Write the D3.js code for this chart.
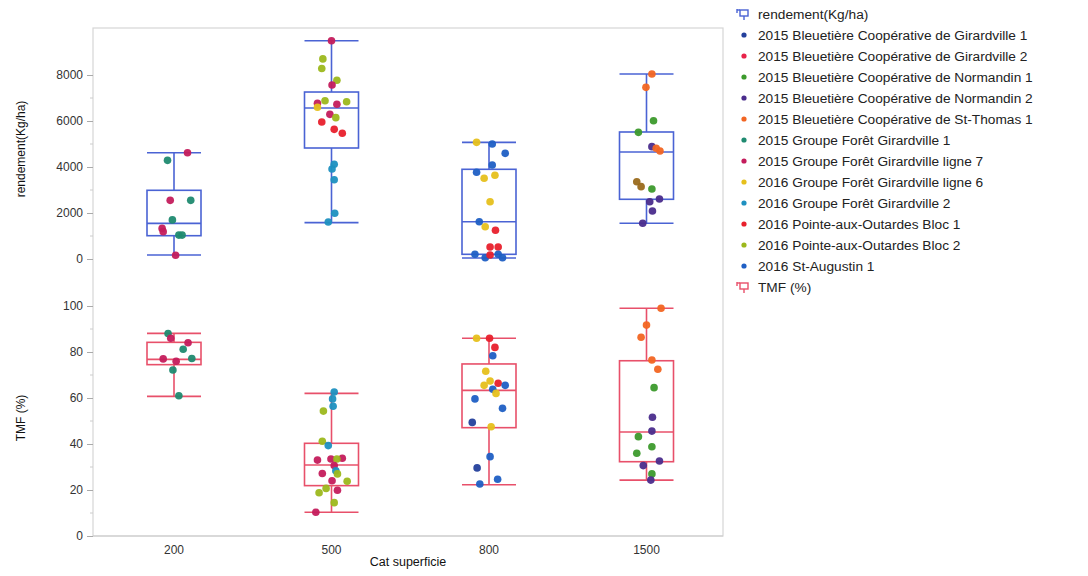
<!DOCTYPE html>
<html><head><meta charset="utf-8">
<script src="https://cdn.jsdelivr.net/npm/d3@7"></script>
<style>
body{margin:0;background:#fff;}
svg{font-family:"Liberation Sans",Arial,Helvetica,sans-serif;}
</style></head><body>
<svg id="chart" width="1088" height="576"></svg>
<script>
// ---------- data ----------
const categories = ["200", "500", "800", "1500"];
const seriesNames = [
  "2015 Bleuetière Coopérative de Girardville 1",
  "2015 Bleuetière Coopérative de Girardville 2",
  "2015 Bleuetière Coopérative de Normandin 1",
  "2015 Bleuetière Coopérative de Normandin 2",
  "2015 Bleuetière Coopérative de St-Thomas 1",
  "2015 Groupe Forêt Girardville 1",
  "2015 Groupe Forêt Girardville ligne 7",
  "2016 Groupe Forêt Girardville ligne 6",
  "2016 Groupe Forêt Girardville 2",
  "2016 Pointe-aux-Outardes Bloc 1",
  "2016 Pointe-aux-Outardes Bloc 2",
  "2016 St-Augustin 1"
];
const seriesColors = ["#24409c","#e8234a","#3c9a2c","#4a2c8c","#f26522","#1f8a70",
  "#c41c5c","#e6c01c","#1e90c0","#e8202c","#9cb81c","#1f5fc4","#9a6a1c"];
const rendementTicks = [0, 2000, 4000, 6000, 8000];
const tmfTicks = [0, 20, 40, 60, 80, 100];
// box stats: [min, q1, median, q3, max]
const rendementStats = [
  [174, 1013, 1550, 2987, 4622],
  [1580, 4826, 6565, 7260, 9490],
  [43, 204, 1622, 3900, 5072],
  [1552, 2596, 4652, 5522, 8043]
];
const tmfStats = [
  [60.7, 74.5, 76.8, 84.2, 88.1],
  [10.3, 21.9, 30.9, 40.3, 62],
  [22.3, 47.1, 63.3, 74.8, 86],
  [24.3, 32.3, 45.2, 76.2, 99]
];
// points: [category index, value, series index, jitter]
const rendementPoints = [
  [0,4620,6,0.25],[0,4290,5,-0.12],[0,2550,6,-0.07],[0,2550,5,0.31],[0,1700,5,-0.03],
  [0,1330,6,-0.22],[0,1190,6,-0.2],[0,1040,5,0.09],[0,1040,5,0.15],[0,160,6,0.03],
  [1,9490,6,0],[1,8700,10,-0.16],[1,8280,10,-0.18],[1,7770,10,0.1],[1,7565,6,0.01],
  [1,6770,6,-0.26],[1,6880,10,-0.12],[1,6725,6,0.1],[1,6840,10,0.28],[1,6595,7,-0.26],
  [1,6290,6,-0.03],[1,6145,10,0.08],[1,5957,9,-0.18],[1,5637,9,0.05],[1,5465,9,0.2],
  [1,4117,8,0.05],[1,3913,8,0.01],[1,3448,8,0.05],[1,1987,8,0.06],[1,1609,8,-0.06],
  [2,5072,7,-0.23],[2,5000,11,0.06],[2,4594,11,0.3],[2,4087,11,0.06],[2,3770,11,-0.23],
  [2,3509,7,-0.09],[2,3639,7,0.11],[2,2491,7,0.02],[2,1622,11,-0.18],[2,1404,7,-0.07],
  [2,1248,9,0.12],[2,522,9,0.02],[2,522,9,0.17],[2,204,11,-0.26],[2,57,11,-0.07],
  [2,174,9,0.02],[2,204,11,0.17],[2,57,11,0.25],
  [3,8043,4,0.1],[3,7464,4,-0.01],[3,6014,2,0.13],[3,5507,2,-0.15],[3,4884,3,0.1],
  [3,4812,4,0.18],[3,4696,4,0.25],[3,3361,12,-0.18],[3,3145,12,-0.1],[3,3043,2,0.1],
  [3,2491,3,0.06],[3,2609,3,0.24],[3,2087,3,0.11],[3,1552,3,-0.07]
];
const tmfPoints = [
  [0,88,5,-0.11],[0,86,6,-0.06],[0,84,6,0.26],[0,81.2,5,0.17],[0,77,6,-0.2],
  [0,77.2,5,0.33],[0,76,6,0.04],[0,72.2,5,-0.02],[0,61,5,0.09],
  [1,62.6,8,0.05],[1,59.6,8,0.02],[1,56.4,8,0.03],[1,54.3,10,-0.15],[1,41.2,10,-0.17],
  [1,39.3,8,-0.06],[1,33,6,-0.26],[1,33.5,6,-0.01],[1,33.8,6,0.2],[1,33.5,10,0.1],
  [1,30.6,6,0.05],[1,27.2,6,-0.17],[1,28.4,8,0.08],[1,27,10,0.11],[1,24,6,0.01],
  [1,23.8,10,0.29],[1,20.7,10,-0.1],[1,19.9,6,0.11],[1,18.8,10,-0.23],[1,14.5,10,0.05],
  [1,10.3,6,-0.29],
  [2,86,7,-0.23],[2,86,9,0.01],[2,82,9,0.11],[2,78.4,11,0.07],[2,71.6,7,-0.06],
  [2,67.4,7,0.02],[2,65.5,7,-0.09],[2,66.4,9,0.17],[2,65.5,11,0.3],[2,63.8,11,0.07],
  [2,62,7,0.13],[2,59.6,11,-0.26],[2,55.5,11,0.25],[2,49.4,0,-0.31],[2,47.5,7,0.04],
  [2,34.5,11,0.02],[2,29.6,0,-0.22],[2,22.6,11,-0.17],[2,24.7,11,0.16],
  [3,99,4,0.27],[3,91.7,4,0],[3,86.4,4,-0.1],[3,76.5,4,0.1],[3,72.5,4,0.21],
  [3,64.5,2,0.14],[3,51.6,3,0.11],[3,45.6,3,0.1],[3,43.2,2,-0.15],[3,38.8,2,0.1],
  [3,36,2,-0.18],[3,32.6,3,0.24],[3,30.6,3,-0.06],[3,27,2,0.1],[3,24.3,3,0.08]
];
const rendementLabel = "rendement(Kg/ha)";
const tmfLabel = "TMF (%)";
const xLabel = "Cat superficie";

// ---------- layout ----------
const svg = d3.select("#chart");
const frame = {left: 93, right: 723, top: 28, bottom: 536};
const x = d3.scaleBand().domain(categories).range([95.25, 725.25]);
const boxW = 54;
const yTop = d3.scaleLinear().domain([0, 8000]).range([259, 75]);
const yBot = d3.scaleLinear().domain([0, 100]).range([536, 306]);
const topColor = "#4a63d4", botColor = "#e8506a";

svg.append("rect").attr("x", frame.left).attr("y", frame.top)
  .attr("width", frame.right - frame.left).attr("height", frame.bottom - frame.top)
  .attr("fill", "none").attr("stroke", "#d6d6d6").attr("stroke-width", 1.2);

function drawAxis(y, ticks, minorStep) {
  const g = svg.append("g").attr("transform", `translate(${frame.left},0)`)
    .call(d3.axisLeft(y).tickValues(ticks).tickSize(6).tickPadding(4).tickFormat(d3.format("d")));
  g.select(".domain").remove();
  g.selectAll(".tick line").attr("stroke", "#aaa");
  g.selectAll(".tick text").attr("fill", "#333").style("font-size", "12px");
  const minor = d3.range(ticks[0] + minorStep, ticks[ticks.length - 1], minorStep * 2);
  svg.append("g").selectAll("line").data(minor).join("line")
    .attr("x1", frame.left - 3).attr("x2", frame.left)
    .attr("y1", d => y(d)).attr("y2", d => y(d)).attr("stroke", "#ccc");
}
drawAxis(yTop, rendementTicks, 1000);
drawAxis(yBot, tmfTicks, 10);

// x axis
const gx = svg.append("g").attr("transform", `translate(0,${frame.bottom})`)
  .call(d3.axisBottom(x).tickSize(0).tickPadding(9));
gx.select(".domain").attr("stroke", "#ccc").attr("d", `M${frame.left},0H${frame.right}`);
gx.selectAll(".tick text").attr("fill", "#333").style("font-size", "12px");

// axis titles
svg.append("text").attr("transform", `translate(25,${(75+259)/2 - 18}) rotate(-90)`)
  .attr("text-anchor", "middle").attr("fill", "#111").style("font-size", "12px").text(rendementLabel);
svg.append("text").attr("transform", `translate(25,${yBot(50) - 3}) rotate(-90)`)
  .attr("text-anchor", "middle").attr("fill", "#111").style("font-size", "12px").text(tmfLabel);
svg.append("text").attr("x", 408).attr("y", 566).attr("text-anchor", "middle")
  .attr("fill", "#111").style("font-size", "12.5px").text(xLabel);

function drawBoxes(stats, y, color) {
  const g = svg.append("g");
  stats.forEach((s, i) => {
    const cx = x(categories[i]) + x.bandwidth() / 2;
    const [mn, q1, md, q3, mx] = s;
    g.append("line").attr("x1", cx).attr("x2", cx).attr("y1", y(q3)).attr("y2", y(mx))
      .attr("stroke", color).attr("stroke-width", 1.6);
    g.append("line").attr("x1", cx).attr("x2", cx).attr("y1", y(q1)).attr("y2", y(mn))
      .attr("stroke", color).attr("stroke-width", 1.6);
    [mn, mx].forEach(v => g.append("line").attr("x1", cx - boxW/2).attr("x2", cx + boxW/2)
      .attr("y1", y(v)).attr("y2", y(v)).attr("stroke", color).attr("stroke-width", 1.6));
    g.append("rect").attr("x", cx - boxW/2).attr("y", y(q3)).attr("width", boxW)
      .attr("height", y(q1) - y(q3)).attr("fill", "none").attr("stroke", color).attr("stroke-width", 1.6);
    g.append("line").attr("x1", cx - boxW/2).attr("x2", cx + boxW/2)
      .attr("y1", y(md)).attr("y2", y(md)).attr("stroke", color).attr("stroke-width", 1.6);
  });
}
drawBoxes(rendementStats, yTop, topColor);
drawBoxes(tmfStats, yBot, botColor);

function drawPoints(pts, y) {
  svg.append("g").selectAll("circle").data(pts).join("circle")
    .attr("cx", d => x(categories[d[0]]) + x.bandwidth()/2 + d[3] * boxW)
    .attr("cy", d => y(d[1])).attr("r", 3.8)
    .attr("fill", d => seriesColors[d[2]]).attr("opacity", 0.95);
}
drawPoints(rendementPoints, yTop);
drawPoints(tmfPoints, yBot);

// legend
const leg = svg.append("g").attr("transform", "translate(737,14)");
const step = 21;
function boxIcon(g, yy, color) {
  g.append("rect").attr("x", 3).attr("y", yy - 4).attr("width", 8).attr("height", 6)
    .attr("fill", "none").attr("stroke", color).attr("stroke-width", 1.4);
  g.append("line").attr("x1", 0).attr("x2", 3).attr("y1", yy - 4).attr("y2", yy - 4)
    .attr("stroke", color).attr("stroke-width", 1.4);
  g.append("line").attr("x1", 0).attr("x2", 0).attr("y1", yy - 5).attr("y2", yy - 1)
    .attr("stroke", color).attr("stroke-width", 1.4);
  g.append("line").attr("x1", 7).attr("x2", 7).attr("y1", yy + 2).attr("y2", yy + 6)
    .attr("stroke", color).attr("stroke-width", 1.4);
}
const legItems = [{t: rendementLabel, box: topColor}]
  .concat(seriesNames.map((n, i) => ({t: n, c: seriesColors[i]})))
  .concat([{t: tmfLabel, box: botColor}]);
legItems.forEach((it, i) => {
  const yy = i * step;
  if (it.box) boxIcon(leg, yy, it.box);
  else leg.append("circle").attr("cx", 7).attr("cy", yy).attr("r", 2.6).attr("fill", it.c);
  leg.append("text").attr("x", 21).attr("y", yy + 4.5).attr("fill", "#222")
    .style("font-size", "13.7px").text(it.t);
});
</script></body></html>
